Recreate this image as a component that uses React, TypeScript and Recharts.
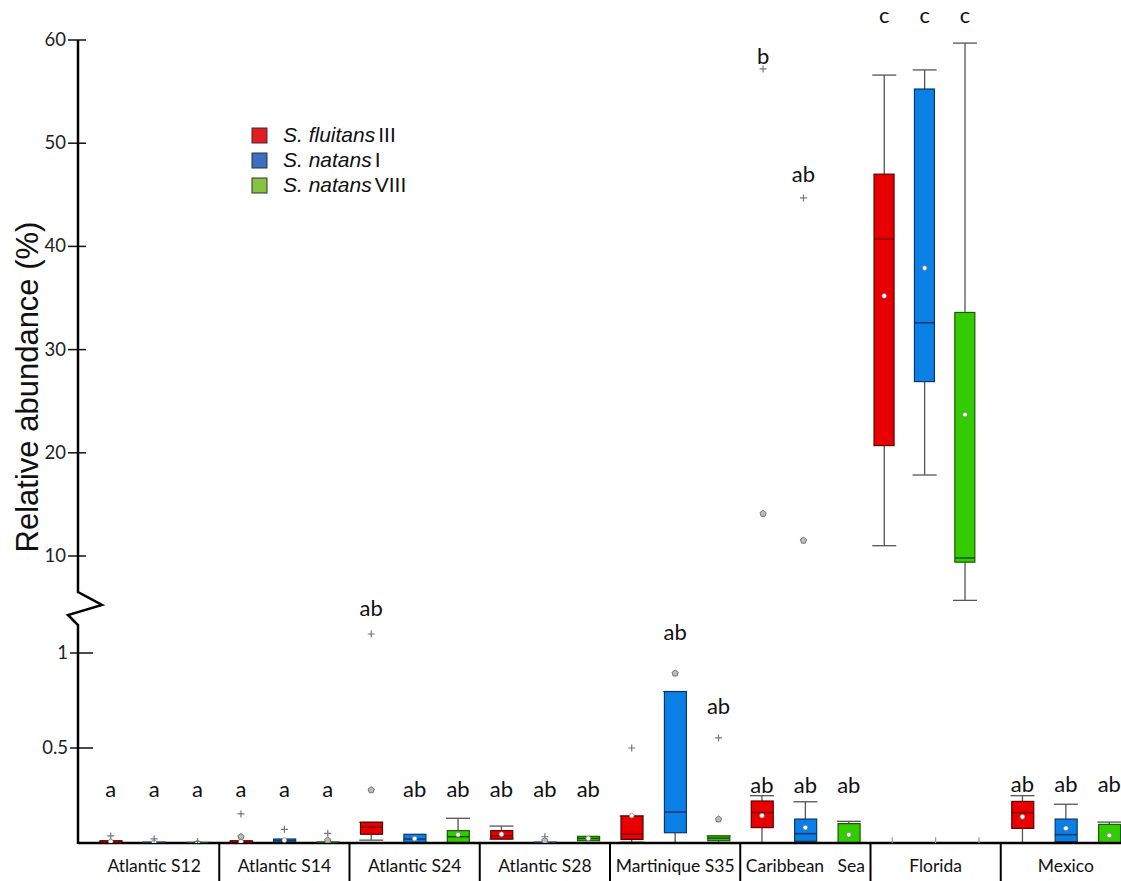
import { Bar, ComposedChart, ErrorBar, Scatter, XAxis, YAxis } from "recharts";

const sites = [
  "Atlantic S12",
  "Atlantic S14",
  "Atlantic S24",
  "Atlantic S28",
  "Martinique S35",
  "Caribbean\u00a0\u00a0 Sea",
  "Florida",
  "Mexico",
];
const species = ["S. fluitans", "S. natans", "S. natans"];
const speciesType = ["III", "I", "VIII"];

// lower panel (0 - 1.3 %), one value per box: site by site, red / blue / green
const lowQ1 = [
  0, 0, 0,
  0, 0, 0,
  0.046, 0, 0,
  0.021, 0, 0.012,
  0.019, 0.054, 0.012,
  0.081, 0.009, 0,
  null, null, null,
  0.077, 0.007, 0,
];
const lowQ3 = [
  0.012, 0.004, 0.003,
  0.012, 0.021, 0.005,
  0.109, 0.046, 0.065,
  0.065, 0.004, 0.035,
  0.142, 0.797, 0.037,
  0.221, 0.126, 0.102,
  null, null, null,
  0.219, 0.126, 0.098,
];
const lowMedian = [
  0.005, 0.002, 0.001,
  0.006, 0.012, 0.002,
  0.083, 0.021, 0.033,
  0.038, 0.002, 0.024,
  0.046, 0.163, 0.025,
  0.16, 0.049, null,
  null, null, null,
  0.16, 0.044, null,
];
const lowMean = [
  0.008, 0.003, 0.002,
  0.008, 0.015, 0.004,
  null, 0.023, 0.044,
  0.046, 0.003, 0.024,
  0.144, null, null,
  0.144, 0.081, 0.044,
  null, null, null,
  0.138, 0.077, 0.04,
];
const lowWhiskerLo = [
  null, null, null,
  null, null, null,
  0.015, null, 0,
  0.021, null, null,
  0.004, 0, 0,
  0, 0, 0,
  null, null, null,
  0, 0, 0,
];
const lowWhiskerHi = [
  null, null, null,
  null, null, null,
  0.109, null, 0.13,
  0.089, null, null,
  0.142, 0.797, 0.037,
  0.249, 0.217, 0.114,
  null, null, null,
  0.249, 0.204, 0.11,
];
const lowStub = [
  null, null, null, null, null, null, null, null, null, null, null, null,
  null, null, null, null, null, null,
  0.015, 0.015, 0.015,
  null, null, null,
];
const lowPlus = [
  0.037, 0.022, 0.008,
  0.153, 0.072, 0.051,
  1.1, null, null,
  null, 0.033, null,
  0.5, null, 0.553,
  null, null, null,
  null, null, null,
  null, null, null,
];
const lowStar = [
  null, null, null,
  0.033, null, 0.014,
  0.279, null, null,
  null, 0.012, null,
  null, 0.893, 0.125,
  null, null, null,
  null, null, null,
  null, null, null,
];
const lowLetters = [
  "a", "a", "a",
  "a", "a", "a",
  "ab", "ab", "ab",
  "ab", "ab", "ab",
  "", "ab", "ab",
  "ab", "ab", "ab",
  "", "", "",
  "ab", "ab", "ab",
];
const lowLetterAt = [
  0.279, 0.279, 0.279,
  0.279, 0.279, 0.279,
  1.23, 0.279, 0.279,
  0.279, 0.279, 0.279,
  null, 1.107, 0.717,
  0.302, 0.302, 0.302,
  null, null, null,
  0.305, 0.305, 0.305,
];

// upper panel (above the break, %)
const upQ1 = [
  null, null, null, null, null, null, null, null, null, null, null, null,
  null, null, null, null, null, null,
  20.7, 26.9, 9.4,
  null, null, null,
];
const upQ3 = [
  null, null, null, null, null, null, null, null, null, null, null, null,
  null, null, null, null, null, null,
  47.0, 55.25, 33.6,
  null, null, null,
];
const upMedian = [
  null, null, null, null, null, null, null, null, null, null, null, null,
  null, null, null, null, null, null,
  40.7, 32.6, 9.8,
  null, null, null,
];
const upMean = [
  null, null, null, null, null, null, null, null, null, null, null, null,
  null, null, null, null, null, null,
  35.2, 37.9, 23.7,
  null, null, null,
];
const upWhiskerLo = [
  null, null, null, null, null, null, null, null, null, null, null, null,
  null, null, null, null, null, null,
  11.0, 17.85, 5.7,
  null, null, null,
];
const upWhiskerHi = [
  null, null, null, null, null, null, null, null, null, null, null, null,
  null, null, null, null, null, null,
  56.6, 57.1, 59.7,
  null, null, null,
];
const upPlus = [
  null, null, null, null, null, null, null, null, null, null, null, null,
  null, null, null, 57.2, 44.7, null,
  null, null, null,
  null, null, null,
];
const upStar = [
  null, null, null, null, null, null, null, null, null, null, null, null,
  null, null, null, 14.1, 11.5, null,
  null, null, null,
  null, null, null,
];
const upLetters = [
  "", "", "", "", "", "", "", "", "", "", "", "",
  "", "", "", "b", "ab", "",
  "c", "c", "c",
  "", "", "",
];
const upLetterAt = [
  null, null, null, null, null, null, null, null, null, null, null, null,
  null, null, null, 58.4, 46.9, null,
  62.3, 62.3, 62.3,
  null, null, null,
];

const lowTicks = [0.5, 1];
const upTicks = [10, 20, 30, 40, 50, 60];

// layout
const W = 1121;
const H = 881;
const AXIS_X = 78;
const LOW_ZERO = 843;
const LOW_PX = 190;
const LOW_MAX = 1.3;
const LOW_W = 1131;
const LOW_PAD = 11;
const SLOT = (LOW_W - AXIS_X - LOW_PAD) / 24;
const UP_MIN = 5;
const UP_MAX = 63;
const UP_TEN = 556;
const UP_PX = 10.32;

const FILL = ["#e80000", "#0a80e6", "#33cc00"];
const EDGE = ["#5c0000", "#0f3563", "#1c5a00"];
const MID = ["#8a0000", "#0d3a70", "#155500"];
const LEGEND_FILL = ["#e31b23", "#3b6fc1", "#86c440"];
const FONT = "Lato, 'Open Sans', sans-serif";

function buildRows(q1, q3, med, mean, wLo, wHi, plus, star, letters, letterAt, stub) {
  return q1.map((_, i) => ({
    slot: String(i),
    sp: i % 3,
    box: q1[i] == null ? null : [q1[i], q3[i]],
    median: med[i],
    mean: mean[i],
    whiskerLo: wLo[i],
    whiskerErr: wLo[i] == null ? null : [0, wHi[i] - wLo[i]],
    plus: plus[i],
    star: star[i],
    letter: letters[i],
    letterAt: letterAt[i],
    stub: stub ? stub[i] : null,
  }));
}

const lowRows = buildRows(
  lowQ1, lowQ3, lowMedian, lowMean, lowWhiskerLo, lowWhiskerHi,
  lowPlus, lowStar, lowLetters, lowLetterAt, lowStub,
);
const upRows = buildRows(
  upQ1, upQ3, upMedian, upMean, upWhiskerLo, upWhiskerHi,
  upPlus, upStar, upLetters, upLetterAt, null,
);

const empty = <g />;

const BoxShape = (props: any) => {
  const { x, y, width, height, payload } = props;
  if (!payload || payload.box == null) return empty;
  return (
    <rect
      x={x}
      y={y}
      width={width}
      height={Math.max(height, 1)}
      fill={FILL[payload.sp]}
      stroke={EDGE[payload.sp]}
      strokeWidth={1.2}
    />
  );
};

const medianShape = (half: number) => (props: any) => {
  const { cx, cy, payload } = props;
  if (!payload || payload.median == null) return empty;
  return (
    <line x1={cx - half} x2={cx + half} y1={cy} y2={cy} stroke={MID[payload.sp]} strokeWidth={1.6} />
  );
};

const MeanShape = (props: any) => {
  const { cx, cy, payload } = props;
  if (!payload || payload.mean == null) return empty;
  return <circle cx={cx} cy={cy} r={2.4} fill="#fff" stroke="#777" strokeWidth={0.7} />;
};

const PlusShape = (props: any) => {
  const { cx, cy, payload } = props;
  if (!payload || payload.plus == null) return empty;
  return (
    <path
      d={`M${cx - 3.5},${cy}h7M${cx},${cy - 3.5}v7`}
      stroke="#777"
      strokeWidth={1.2}
      fill="none"
    />
  );
};

const StarShape = (props: any) => {
  const { cx, cy, payload } = props;
  if (!payload || payload.star == null) return empty;
  const pts = [0, 1, 2, 3, 4]
    .map((k) => {
      const a = -Math.PI / 2 + (k * 2 * Math.PI) / 5;
      return `${cx + 3.3 * Math.cos(a)},${cy + 3.3 * Math.sin(a)}`;
    })
    .join(" ");
  return <polygon points={pts} fill="#bbb" stroke="#777" strokeWidth={1} />;
};

const StubShape = (props: any) => {
  const { cx, cy, payload } = props;
  if (!payload || payload.stub == null) return empty;
  return <line x1={cx} x2={cx} y1={cy - 3} y2={cy + 3} stroke="#999" strokeWidth={1.2} />;
};

const LetterShape = (props: any) => {
  const { cx, cy, payload } = props;
  if (!payload || payload.letterAt == null || !payload.letter) return empty;
  return (
    <text x={cx} y={cy + 7} textAnchor="middle" fontSize={22} fill="#111" fontFamily={FONT}>
      {payload.letter}
    </text>
  );
};

const SiteTick = (props: any) => {
  const { x, payload } = props;
  const i = Number(payload.value);
  if (i % 3 === 1) {
    return (
      <text x={x} y={LOW_ZERO + 29} textAnchor="middle" fontSize={17.5} fill="#111" fontFamily={FONT}>
        {sites[(i - 1) / 3]}
      </text>
    );
  }
  if (i % 3 === 2 && i < 23) {
    const dx = x + SLOT / 2;
    return <line x1={dx} x2={dx} y1={LOW_ZERO} y2={H} stroke="#000" strokeWidth={2} />;
  }
  return empty;
};

const yTick = (left: number, right: number) => (props: any) => {
  const { y, payload } = props;
  return (
    <g>
      <line x1={left} x2={right} y1={y} y2={y} stroke="#111" strokeWidth={1.5} />
      <text x={left - 2} y={y + 6} textAnchor="end" fontSize={18.5} fill="#222" fontFamily={FONT}>
        {payload.value}
      </text>
    </g>
  );
};

function panelSeries(barSize: number) {
  return [
    <Scatter key="wh" dataKey="whiskerLo" shape={() => empty} isAnimationActive={false} zIndex={100}>
      <ErrorBar dataKey="whiskerErr" direction="y" width={12} stroke="#555" strokeWidth={1.3} zIndex={100} />
    </Scatter>,
    <Bar key="box" dataKey="box" barSize={barSize} shape={BoxShape} isAnimationActive={false} />,
    <Scatter key="med" dataKey="median" shape={medianShape(barSize / 2)} isAnimationActive={false} />,
    <Scatter key="mean" dataKey="mean" shape={MeanShape} isAnimationActive={false} />,
    <Scatter key="plus" dataKey="plus" shape={PlusShape} isAnimationActive={false} />,
    <Scatter key="star" dataKey="star" shape={StarShape} isAnimationActive={false} />,
    <Scatter key="stub" dataKey="stub" shape={StubShape} isAnimationActive={false} />,
    <Scatter key="let" dataKey="letterAt" shape={LetterShape} isAnimationActive={false} />,
  ];
}

export default function App() {
  const lowTop = LOW_ZERO - LOW_MAX * LOW_PX;
  const upTop = UP_TEN - (UP_MAX - 10) * UP_PX;
  const upBottom = UP_TEN + (10 - UP_MIN) * UP_PX;
  const upPadL = 137 - AXIS_X;
  const upPadR = W - 1106.4;

  return (
    <div
      style={{
        position: "absolute",
        left: 0,
        top: 0,
        width: W,
        height: H,
        overflow: "hidden",
        background: "#fff",
        fontFamily: FONT,
      }}
    >
      <div style={{ position: "absolute", left: 0, top: 0 }}>
        <ComposedChart
          width={LOW_W}
          height={H}
          data={lowRows}
          margin={{ top: lowTop, right: 0, bottom: 0, left: 0 }}
        >
          <XAxis
            dataKey="slot"
            type="category"
            interval={0}
            padding={{ left: LOW_PAD, right: 0 }}
            height={H - LOW_ZERO}
            axisLine={{ stroke: "#000", strokeWidth: 2.5 }}
            tickLine={false}
            tick={SiteTick}
          />
          <YAxis
            width={AXIS_X}
            domain={[0, LOW_MAX]}
            ticks={lowTicks}
            allowDataOverflow
            axisLine={false}
            tickLine={false}
            tick={yTick(AXIS_X - 8, AXIS_X + 15)}
          />
          {panelSeries(22)}
        </ComposedChart>
      </div>
      <div style={{ position: "absolute", left: 0, top: 0 }}>
        <ComposedChart
          width={W}
          height={H}
          data={upRows}
          margin={{ top: upTop, right: 0, bottom: H - upBottom, left: 0 }}
        >
          <XAxis dataKey="slot" type="category" hide padding={{ left: upPadL, right: upPadR }} />
          <YAxis
            width={AXIS_X}
            domain={[UP_MIN, UP_MAX]}
            ticks={upTicks}
            allowDataOverflow
            axisLine={false}
            tickLine={false}
            tick={yTick(AXIS_X - 10, AXIS_X + 8)}
          />
          {panelSeries(20)}
        </ComposedChart>
      </div>
      <svg
        width={W}
        height={H}
        style={{ position: "absolute", left: 0, top: 0, pointerEvents: "none" }}
      >
        <path
          d={`M${AXIS_X},40 L${AXIS_X},592 L102,605 L68,615 L${AXIS_X},625 L${AXIS_X},${LOW_ZERO + 1}`}
          stroke="#000"
          strokeWidth={2.5}
          fill="none"
        />
        <text
          transform="translate(38,387) rotate(-90)"
          textAnchor="middle"
          fontSize={31}
          fill="#111"
          fontFamily="'Liberation Sans', Arial, sans-serif"
        >
          Relative abundance (%)
        </text>
        {species.map((name, i) => (
          <g key={i}>
            <rect
              x={252}
              y={128 + i * 25}
              width={15}
              height={15}
              fill={LEGEND_FILL[i]}
              stroke="#333"
              strokeWidth={1}
            />
            <text
              x={283}
              y={142 + i * 25}
              fontSize={21}
              fill="#111"
              fontFamily="'Liberation Sans', Arial, sans-serif"
            >
              <tspan fontStyle="italic">{name}</tspan>
              <tspan dx={3}>{speciesType[i]}</tspan>
            </text>
          </g>
        ))}
      </svg>
    </div>
  );
}
